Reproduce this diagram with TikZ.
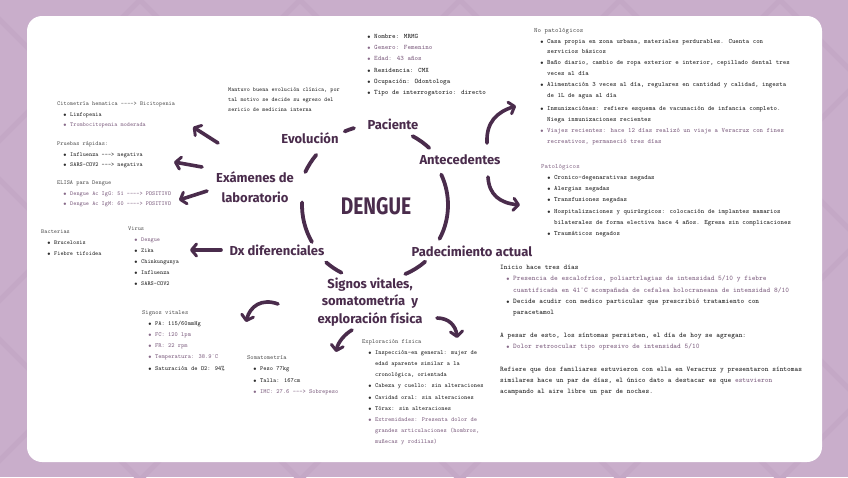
\documentclass[tikz,border=0pt]{standalone}
\usepackage{fontspec}
\usepackage{graphicx}
\newfontfamily\headfont{Fira Sans}
\usetikzlibrary{arrows.meta}
\definecolor{bg}{HTML}{C9AECB}
\definecolor{bgline}{HTML}{C4A8C6}
\definecolor{dpurple}{HTML}{4A2C4C}
\definecolor{txt}{HTML}{2E2E2E}
\definecolor{ptxt}{HTML}{876A89}
\definecolor{ttl}{HTML}{4E4E4E}
\newcommand\bu{\hspace*{6pt}\makebox[7pt][l]{$\scriptscriptstyle\bullet$}}
\newcommand\cont{\hspace*{13pt}}
\newcommand\ttlt[1]{{\mdseries\color{ttl}#1}}
\newcommand\pur[1]{{\color{ptxt}#1}}
\tikzset{
  blk/.style={anchor=north west, inner sep=0pt, align=left, text=txt,
    font=\ttfamily\bfseries\fontsize{6.8}{11.2}\selectfont},
  sblk/.style={blk, font=\ttfamily\bfseries\fontsize{6}{10.3}\selectfont},
  head/.style={text=dpurple, font=\headfont\bfseries\fontsize{13}{17.5}\selectfont,
    align=center, inner sep=0pt},
  ring/.style={draw=dpurple, line width=3.8pt, line cap=round},
  arr/.style={draw=dpurple, line width=3.6pt, line cap=round,
    -{Straight Barb[length=5pt,width=12pt,line width=3pt,round]}}
}
\begin{document}
\begin{tikzpicture}[x=1pt,y=-1pt]
\useasboundingbox (0,0) rectangle (848,477);
\fill[bg] (0,0) rectangle (848,477);
\begin{scope}
\clip (0,0) rectangle (848,477);
\foreach \k in {-500,-340,...,1400} {
  \draw[bgline, line width=5pt] (\k,0) -- ++(480,480);
  \draw[bgline, line width=5pt] (\k,0) -- ++(-480,480);
}
\end{scope}
\fill[white, rounded corners=15pt] (27,16) rectangle (822,462);

% ring around the centre
\coordinate (c) at (376,205);
\draw[ring] (c) ++(-25:72) arc[start angle=-25, end angle=28, radius=72];
\draw[ring] (c) ++(150:74) arc[start angle=150, end angle=182, radius=74];
\draw[ring] (c) ++(205:78) arc[start angle=205, end angle=220, radius=78];
\draw[ring] (c) ++(247:80) arc[start angle=247, end angle=254, radius=80];
\draw[ring] (c) ++(298:78) arc[start angle=298, end angle=313, radius=78];
\draw[ring] (c) ++(117:76) arc[start angle=117, end angle=131, radius=76];
\draw[ring] (c) ++(49:75) arc[start angle=49, end angle=67, radius=75];

% headings
\node (dengue) at (376,206) {\textcolor{dpurple}{\scalebox{0.8}[1]{\headfont\bfseries\fontsize{24}{28}\selectfont DENGUE}}};
\node[head] (pac) at (393,124) {Paciente};
\node[head] (evo) at (310,138) {Evolución};
\node[head] (ant) at (460,160) {Antecedentes};
\node[head, font=\headfont\bfseries\fontsize{13}{20}\selectfont] (lab) at (255,187) {Exámenes de\\laboratorio};
\node[head] (dx) at (277,250) {Dx diferenciales};
\node[head] (pad) at (472,251) {Padecimiento actual};
\node[head] (sig) at (370,302) {Signos vitales,\\somatometría\ \ y\\exploración física};

% arrows
\coordinate (a1s) at (218,143); \coordinate (a1e) at (193,127);
\coordinate (a2s) at (202,167); \coordinate (a2e) at (174,162);
\coordinate (a3s) at (207,191); \coordinate (a3e) at (179,200);
\coordinate (a4s) at (221,250); \coordinate (a4e) at (190,250);
\coordinate (a5s) at (278,304); \coordinate (a5e) at (246,322);
\coordinate (a6s) at (352,330); \coordinate (a6e) at (336,352);
\coordinate (a7s) at (437,318); \coordinate (a7e) at (457,338);
\coordinate (a8s) at (487,143); \coordinate (a8e) at (516,106);
\coordinate (a9s) at (488,177); \coordinate (a9e) at (520,205);
\draw[arr] (a1s) -- (a1e);
\draw[arr] (a2s) -- (a2e);
\draw[arr] (a3s) -- (a3e);
\draw[arr] (a4s) -- (a4e);
\draw[arr] (a5s) .. controls (262,298) and (250,306) .. (a5e);
\draw[arr] (a6s) .. controls (345,334) and (338,342) .. (a6e);
\draw[arr] (a7s) .. controls (449,318) and (456,326) .. (a7e);
\draw[arr] (a8s) .. controls (486,122) and (497,112) .. (a8e);
\draw[arr] (a9s) .. controls (489,195) and (500,203) .. (a9e);

% patient data
\node[blk] (patient) at (361,34) {%
\bu Nombre: MRMG\\
\pur{\bu Genero: Femenino}\\
\pur{\bu Edad: 43 años}\\
\bu Residencia: CMX\\
\bu Ocupación: Odontologa\\
\bu Tipo de interrogatorio: directo};

% evolucion
\node[sblk, font=\ttfamily\bfseries\fontsize{5.9}{10}\selectfont] (evotext) at (228,88) {%
Mantuvo buena evolución clínica, por\\
tal motivo se decide su egreso del\\
sericio de medicina interna};

% laboratorio
\node[sblk] (cito) at (57,102) {%
\ttlt{Citometría hematica ----> Bicitopenia}\\
\bu Linfopenia\\
\pur{\bu Trombocitopenia moderada}};
\node[sblk] (pruebas) at (57,142) {%
\ttlt{Pruebas rápidas:}\\
\bu Influenza ---> negativa\\
\bu SARS-COV2 ---> negativa};
\node[sblk] (elisa) at (57,181) {%
\ttlt{ELISA para Dengue}\\
\pur{\bu Dengue Ac IgG: 51 ----> POSITIVO}\\
\pur{\bu Dengue Ac IgM: 60 ----> POSITIVO}};

% dx diferenciales
\node[sblk, font=\ttfamily\bfseries\fontsize{6}{11}\selectfont] (bact) at (41,230) {%
\ttlt{Bacterias}\\
\bu Brucelosis\\
\bu Fiebre tifoidea};
\node[sblk, font=\ttfamily\bfseries\fontsize{6}{11}\selectfont] (virus) at (128,227) {%
\ttlt{Virus}\\
\pur{\bu Dengue}\\
\bu Zika\\
\bu Chinkungunya\\
\bu Influenza\\
\bu SARS-COV2};

% signos vitales
\node[sblk, font=\ttfamily\bfseries\fontsize{6.2}{11.2}\selectfont] (sv) at (142,310) {%
\ttlt{Signos vitales}\\
\bu PA: 115/60mmHg\\
\pur{\bu FC: 120 lpm}\\
\pur{\bu FR: 22 rpm}\\
\pur{\bu Temperatura: 38.9°C}\\
\bu Saturación de O2: 94\%};
\node[sblk, font=\ttfamily\bfseries\fontsize{6.2}{11.5}\selectfont] (soma) at (247,355) {%
\ttlt{Somatometría}\\
\bu Peso 77kg\\
\bu Talla: 167cm\\
\pur{\bu IMC: 27.6 ---> Sobrepeso}};
\node[sblk, font=\ttfamily\bfseries\fontsize{6.2}{11.2}\selectfont] (expl) at (362,339) {%
\ttlt{Exploración física}\\
\bu Inspección-en general: mujer de\\
\cont edad aparente similar a la\\
\cont cronológica, orientada\\
\bu Cabeza y cuello: sin alteraciones\\
\bu Cavidad oral: sin alteraciones\\
\bu Tórax: sin alteraciones\\
\pur{\bu Extremidades: Presenta dolor de}\\
\pur{\cont grandes articulaciones (hombros,}\\
\pur{\cont muñecas y rodillas)}};

% antecedentes
\node[blk, font=\ttfamily\bfseries\fontsize{6.6}{10.8}\selectfont] (nopat) at (534,28) {%
\ttlt{No patológicos}\\
\bu Casa propia en zona urbana, materiales perdurables. Cuenta con\\
\cont servicios básicos\\
\bu Baño diario, cambio de ropa exterior e interior, cepillado dental tres\\
\cont veces al día\\
\bu Alimentación 3 veces al día, regulares en cantidad y calidad, ingesta\\
\cont de 1L de agua al día\\[3pt]
\bu Inmunizaciónes: refiere esquema de vacunación de infancia completo.\\
\cont Niega inmunizaciones recientes\\
\pur{\bu Viajes recientes: hace 12 días realizó un viaje a Veracruz con fines}\\
\pur{\cont recreativos, permaneció tres días}};
\node[blk, font=\ttfamily\bfseries\fontsize{6.6}{11.2}\selectfont] (pat) at (541,164) {%
\pur{\mdseries Patológicos}\\
\bu Cronico-degenarativas negadas\\
\bu Alergias negadas\\
\bu Transfusiones negadas\\
\bu Hospitalizaciones y quirúrgicos: colocación de implantes mamarios\\
\cont bilaterales de forma electiva hace 4 años. Egresa sin complicaciones\\
\bu Traumáticos negados};

% padecimiento actual
\node[blk, font=\ttfamily\bfseries\fontsize{7.1}{11.3}\selectfont] (padtext) at (500,265) {%
Inicio hace tres días\\
\pur{\bu Presencia de escalofríos, poliartrlagias de intensidad 5/10 y fiebre}\\
\pur{\cont cuantificada en 41°C acompañada de cefalea holocraneana de intensidad 8/10}\\
\bu Decide acudir con medico particular que prescribió tratamiento con\\
\cont paracetamol\\[11.3pt]
A pesar de esto, los síntomas persisten, el día de hoy se agregan:\\
\pur{\bu Dolor retroocular tipo opresivo de intensidad 5/10}\\[11.3pt]
Refiere que dos familiares estuvieron con ella en Veracruz y presentaron síntomas\\
similares hace un par de días, el único dato a destacar es que \pur{estuvieron}\\
acampando al aire libre un par de noches.};
\end{tikzpicture}
\end{document}
